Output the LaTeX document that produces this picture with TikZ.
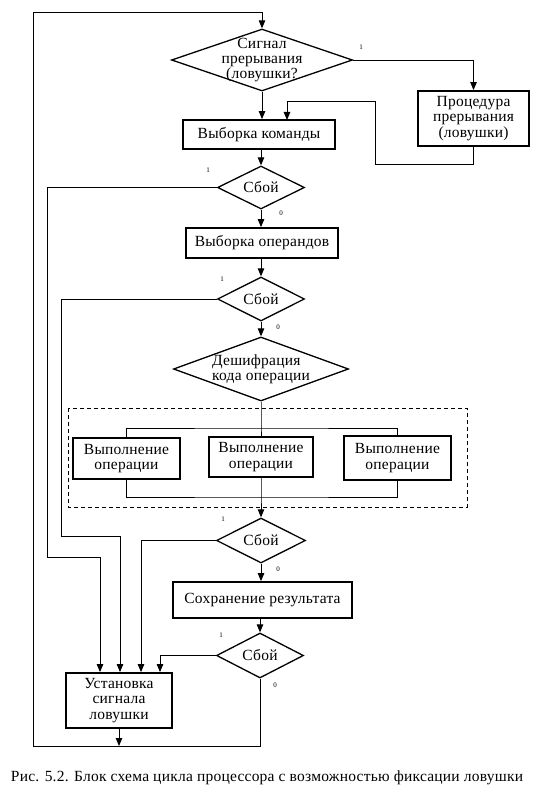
\documentclass[tikz,border=0pt]{standalone}
\usepackage{fontspec}
\setmainfont{Liberation Serif}[LetterSpace=1.5]
\usetikzlibrary{shapes.geometric, arrows.meta}
\tikzstyle{block}=[draw, line width=1.8pt, align=center, inner sep=0pt, font=\fontsize{15.5}{15.5}\selectfont]
\tikzstyle{decide}=[draw, diamond, line width=1.3pt, inner sep=0pt]
\tikzstyle{dtext}=[align=center, inner sep=0pt, font=\fontsize{15.5}{15}\selectfont]
\tikzstyle{flow}=[line width=0.9pt, -{Triangle[length=8pt, width=6.5pt]}]
\tikzstyle{wire}=[line width=0.9pt]
\tikzstyle{flag}=[inner sep=0pt, font=\fontsize{7}{7}\selectfont]

\begin{document}
\begin{tikzpicture}[x=1pt, y=-1pt]
	\useasboundingbox (0,0) rectangle (540,799);

	% Decisions
	\node[decide, minimum width=181pt, minimum height=62pt, label={[dtext]center:Сигнал\\прерывания\\(ловушки?}] (sig) at (262,60) {};
	\node[decide, minimum width=87pt, minimum height=43pt, label={[dtext]center:Сбой}] (err1) at (261,187.5) {};
	\node[decide, minimum width=87pt, minimum height=44pt, label={[dtext]center:Сбой}] (err2) at (261,299) {};
	\node[decide, minimum width=175pt, minimum height=64pt, label={[dtext, align=left]center:Дешифрация\\кода операции}] (decode) at (261,369) {};
	\node[decide, minimum width=89pt, minimum height=45pt, label={[dtext]center:Сбой}] (err3) at (261,540.5) {};
	\node[decide, minimum width=87pt, minimum height=45pt, label={[dtext]center:Сбой}] (err4) at (260,655.5) {};

	% Blocks
	\node[block, minimum width=111pt, minimum height=55pt] (proc) at (473.5,118.5) {Процедура\\прерывания\\(ловушки)};
	\node[block, minimum width=152pt, minimum height=29pt] (fetch) at (259,134.5) {Выборка команды};
	\node[block, minimum width=152pt, minimum height=30pt] (operand) at (262,243) {Выборка операндов};
	\node[block, minimum width=107pt, minimum height=41pt] (exA) at (126.5,458.5) {Выполнение\\операции};
	\node[block, minimum width=104pt, minimum height=40pt] (exB) at (261,457) {Выполнение\\операции};
	\node[block, minimum width=107pt, minimum height=44pt] (exC) at (397.5,458) {Выполнение\\операции};
	\node[block, minimum width=179pt, minimum height=36pt] (store) at (262.5,600) {Сохранение результата};
	\node[block, minimum width=106pt, minimum height=55pt] (trap) at (119,700.5) {Установка\\сигнала\\ловушки};

	% Group of operations
	\draw[wire, dashed, dash pattern=on 4pt off 3pt] (68,408) rectangle (467,507);

	\coordinate (topL) at (33,12);
	\coordinate (botL) at (33,746);
	\coordinate (split) at (261,428);
	\coordinate (join) at (261,497);

	% Main flow
	\draw[flow] (sig.south) -- (sig.south |- fetch.north);
	\draw[flow] (fetch.south -| err1.north) -- (err1.north);
	\draw[flow] (err1.south) -- (err1.south |- operand.north);
	\draw[flow] (operand.south -| err2.north) -- (err2.north);
	\draw[flow] (err2.south) -- (decode.north);
	\draw[wire] (decode.south) -- (split) -- (exB.north);
	\draw[wire] (exA.north) |- (split) -| (exC.north);
	\draw[wire] (exA.south) |- (join) -| (exC.south);
	\draw[flow] (exB.south) -- (join) -- (err3.north);
	\draw[flow] (err3.south) -- (err3.south |- store.north);
	\draw[flow] (store.south -| err4.north) -- (err4.north);

	% Interrupt
	\draw[flow] (sig.east) -| (proc.north);
	\draw[flow] (proc.south) |- (375,164) |- (287,101) -- (287,120);

	% Faults
	\draw[flow] (err1.west) -| (47,557) -| ([xshift=-19pt]trap.north);
	\draw[flow] (err2.west) -| (61,536) -| ([xshift=1pt]trap.north);
	\draw[flow] (err3.west) -| ([xshift=22pt]trap.north);
	\draw[flow] (err4.west) -| ([xshift=41pt]trap.north);

	% Loop back
	\draw[flow] (err4.south) |- (botL) -- (topL) -| (sig.north);
	\draw[flow] (trap.south) -- (trap.south |- botL);

	% Branch marks
	\foreach \x/\y/\v [count=\i] in {361/47/1, 208/170/1, 281/213/0, 222/279/1, 278/327/0, 223/519/1, 278/569/0, 221/635/1, 275/685/0}{
		\node[flag] (flag\i) at (\x,\y) {\v};
	}

	\node[font=\fontsize{15.5}{15}\selectfont] (caption) at (267,778) {Рис. 5.2. Блок схема цикла процессора с возможностью фиксации ловушки};
\end{tikzpicture}
\end{document}
